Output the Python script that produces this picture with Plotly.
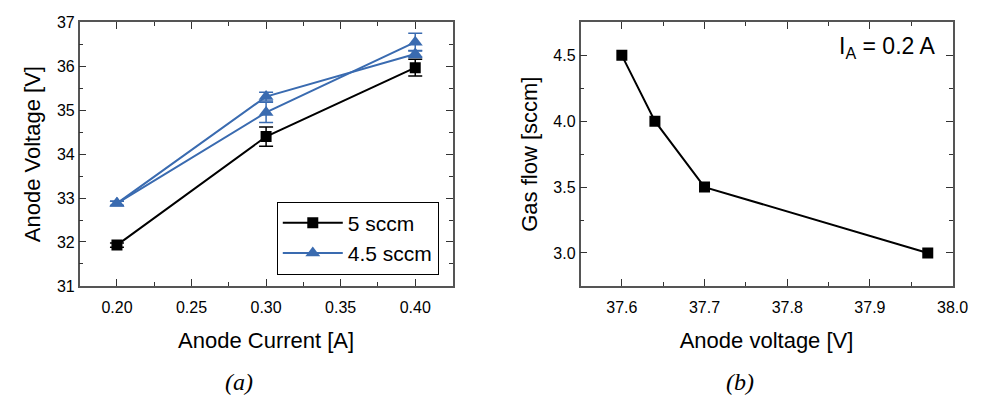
import plotly.graph_objects as go

# Panel (a): anode voltage vs anode current
current = [0.20, 0.30, 0.40]
v_5sccm = [31.93, 34.40, 35.97]
v_5sccm_err = [0.05, 0.22, 0.19]
v_45_run1 = [32.88, 35.31, 36.28]
v_45_run1_err = [0.05, 0.10, 0.08]
v_45_run2 = [32.88, 34.95, 36.55]
v_45_run2_err = [0.05, 0.23, 0.20]

# Panel (b): gas flow vs anode voltage at I_A = 0.2 A
anode_voltage = [37.60, 37.64, 37.70, 37.97]
gas_flow = [4.5, 4.0, 3.5, 3.0]

BLUE = "#3A6BB0"
SANS = "Liberation Sans, Arial, sans-serif"
SERIF = "Liberation Serif, DejaVu Serif, serif"

fig = go.Figure()

fig.add_trace(go.Scatter(
    x=current, y=v_5sccm, mode="lines+markers", name="5 sccm",
    line=dict(color="black", width=2),
    marker=dict(symbol="square", size=11, color="black"),
    error_y=dict(type="data", array=v_5sccm_err, color="black", thickness=1.5, width=7),
    xaxis="x", yaxis="y",
))
fig.add_trace(go.Scatter(
    x=current, y=v_45_run1, mode="lines+markers", name="4.5 sccm",
    line=dict(color=BLUE, width=2),
    marker=dict(symbol="triangle-up", size=13, color=BLUE),
    error_y=dict(type="data", array=v_45_run1_err, color=BLUE, thickness=1.5, width=7),
    xaxis="x", yaxis="y",
))
fig.add_trace(go.Scatter(
    x=current, y=v_45_run2, mode="lines+markers", name="4.5 sccm",
    showlegend=False,
    line=dict(color=BLUE, width=2),
    marker=dict(symbol="triangle-up", size=13, color=BLUE),
    error_y=dict(type="data", array=v_45_run2_err, color=BLUE, thickness=1.5, width=7),
    xaxis="x", yaxis="y",
))
fig.add_trace(go.Scatter(
    x=anode_voltage, y=gas_flow, mode="lines+markers", showlegend=False,
    line=dict(color="black", width=2),
    marker=dict(symbol="square", size=11, color="black"),
    xaxis="x2", yaxis="y2",
))

axis_common = dict(
    showline=True, linecolor="#555555", linewidth=1.5, mirror="allticks",
    ticks="inside", ticklen=7, tickwidth=1.2, tickcolor="#333333",
    showgrid=False, zeroline=False,
)

fig.update_layout(
    width=990, height=408,
    margin=dict(l=0, r=0, t=0, b=0),
    plot_bgcolor="white", paper_bgcolor="white",
    font=dict(family=SANS, color="black", size=16),
    xaxis=dict(
        domain=[0.0818, 0.4646], range=[0.175, 0.425],
        tickvals=[0.20, 0.25, 0.30, 0.35, 0.40],
        ticktext=["0.20", "0.25", "0.30", "0.35", "0.40"],
        minor=dict(ticks="inside", ticklen=4, dtick=0.025, tick0=0.2, tickcolor="#333333"),
        tickfont=dict(size=16), ticklabelstandoff=6,
        title=dict(text="Anode Current [A]", font=dict(size=22), standoff=18),
        anchor="y", **axis_common,
    ),
    yaxis=dict(
        domain=[0.2892, 0.9632], range=[31, 37], dtick=1,
        minor=dict(ticks="inside", ticklen=4, dtick=0.5, tickcolor="#333333"),
        title=dict(text="Anode Voltage [V]", font=dict(size=22), standoff=10),
        anchor="x", **axis_common,
    ),
    xaxis2=dict(
        domain=[0.596, 0.978], range=[37.55, 38.0],
        tickvals=[37.6, 37.7, 37.8, 37.9, 38.0],
        ticktext=["37.6", "37.7", "37.8", "37.9", "38.0"],
        minor=dict(ticks="inside", ticklen=4, dtick=0.05, tick0=37.55, tickcolor="#333333"),
        tickfont=dict(size=16), ticklabelstandoff=6,
        title=dict(text="Anode voltage [V]", font=dict(size=22), standoff=18),
        anchor="y2", **axis_common,
    ),
    yaxis2=dict(
        domain=[0.2892, 0.9632], range=[2.75, 4.75],
        tickvals=[3.0, 3.5, 4.0, 4.5], ticktext=["3.0", "3.5", "4.0", "4.5"],
        minor=dict(ticks="inside", ticklen=4, dtick=0.25, tick0=2.75, tickcolor="#333333"),
        title=dict(text="Gas flow [sccm]", font=dict(size=22), standoff=10),
        anchor="x2", **axis_common,
    ),
    legend=dict(
        x=0.4505, y=0.318, xanchor="right", yanchor="bottom",
        bgcolor="white", bordercolor="black", borderwidth=1,
        font=dict(size=21), tracegroupgap=0, itemwidth=60,
    ),
    annotations=[
        dict(text="I<sub>A</sub> = 0.2 A", x=0.962, y=0.94, xref="paper", yref="paper",
             xanchor="right", yanchor="top", showarrow=False, font=dict(size=23)),
        dict(text="<i>(a)</i>", x=243 / 990, y=1 - 390 / 408, xref="paper", yref="paper",
             xanchor="center", yanchor="middle", showarrow=False,
             font=dict(family=SERIF, size=24)),
        dict(text="<i>(b)</i>", x=752 / 990, y=1 - 390 / 408, xref="paper", yref="paper",
             xanchor="center", yanchor="middle", showarrow=False,
             font=dict(family=SERIF, size=24)),
    ],
)

fig.write_html("out.html")
